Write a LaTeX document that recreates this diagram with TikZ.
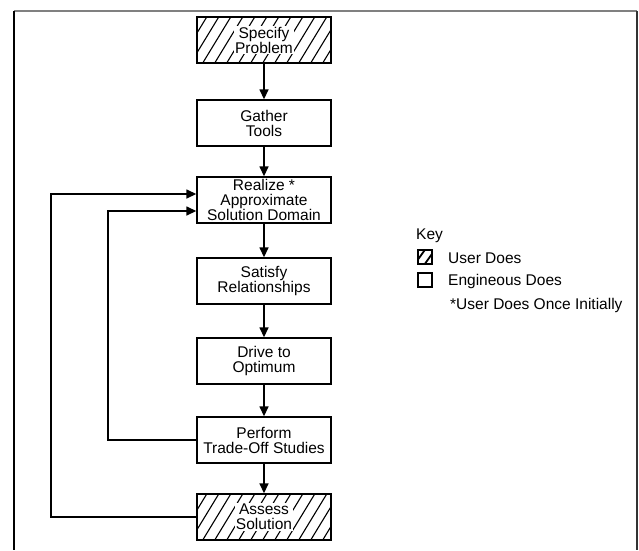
\documentclass[tikz,border=0pt]{standalone}
\usepackage{fontspec}
\setmainfont{Liberation Sans}
\usetikzlibrary{arrows.meta,calc}
\tikzset{
  box/.style={draw, line width=1.4pt, minimum width=134pt, minimum height=46pt, inner sep=0pt},
  lbl/.style={align=center, font=\fontsize{15.5}{15}\selectfont, inner sep=0pt},
  hlbl/.style={lbl, fill=white, inner sep=1.2pt},
  hatch/.style={line width=1.1pt},
  arr/.style={line width=1.5pt, -{Triangle[length=10pt,width=9pt]}},
  keytext/.style={anchor=west, font=\fontsize{15.5}{15}\selectfont, inner sep=0pt},
  keybox/.style={draw, line width=1.4pt, minimum width=14pt, minimum height=14pt, inner sep=0pt}
}
\newcommand{\hatchbox}[1]{%
  \begin{scope}
    \clip (#1.south west) rectangle (#1.north east);
    \foreach \i in {0,...,15}
      \draw[hatch] ($(#1.south west)+(\i*12pt-30pt,0)$) -- ++(28pt,46pt);
  \end{scope}}
\begin{document}
\begin{tikzpicture}[x=1pt,y=-1pt]
\useasboundingbox (0,0) rectangle (639,550);
\fill[white] (0,0) rectangle (639,550);
% frame
\coordinate (ftl) at (14,11);
\coordinate (ftr) at (637,11);
\coordinate (fbl) at (14,550);
\coordinate (fbr) at (637,550);
\draw[gray, line width=2pt] (ftl) -- (ftr);
\draw[black, line width=1.5pt] (ftl) -- (fbl);
\draw[black!80, line width=1.5pt] (ftr) -- (fbr);

% boxes
\node[box] (p1) at (264,40) {};
\hatchbox{p1}
\node[box] (p1b) at (264,40) {};
\node[hlbl] (p1t) at (264,40) {Specify\\Problem};

\node[box, lbl] (p2) at (264,123) {Gather\\Tools};
\node[box, lbl] (p3) at (264,200) {Realize *\\Approximate\\Solution Domain};
\node[box, lbl] (p4) at (264,281) {Satisfy\\Relationships};
\node[box, lbl] (p5) at (264,361) {Drive to\\Optimum};
\node[box, lbl] (p6) at (264,440) {Perform\\Trade-Off Studies};

\node[box] (p7) at (264,517) {};
\hatchbox{p7}
\node[box] (p7b) at (264,517) {};
\node[hlbl] (p7t) at (264,517) {Assess\\Solution};

% arrows
\draw[arr] (p1b.south) -- (p2.north);
\draw[arr] (p2.south) -- (p3.north);
\draw[arr] (p3.south) -- (p4.north);
\draw[arr] (p4.south) -- (p5.north);
\draw[arr] (p5.south) -- (p6.north);
\draw[arr] (p6.south) -- (p7b.north);

% loops
\coordinate (oc) at (51,517);
\coordinate (ic) at (108,440);
\draw[arr] (p7b.west) -- (oc) |- ([yshift=6pt]p3.west);
\draw[arr] (p6.west) -- (ic) |- ([yshift=-11pt]p3.west);

% key
\node[keytext] (key) at (416,236) {Key};
\node[keybox] (k1) at (425,257) {};
\begin{scope}
  \clip (k1.south west) rectangle (k1.north east);
  \draw[line width=1.8pt] ($(k1.south west)+(-3pt,0)$) -- ++(10pt,14pt);
  \draw[line width=1.8pt] ($(k1.south west)+(7pt,0)$) -- ++(10pt,14pt);
\end{scope}
\node[keytext] (k1t) at (448,258) {User Does};
\node[keybox] (k2) at (425,280) {};
\node[keytext] (k2t) at (448,281) {Engineous Does};
\node[keytext] (k3t) at (450,305) {*User Does Once Initially};
\end{tikzpicture}
\end{document}
